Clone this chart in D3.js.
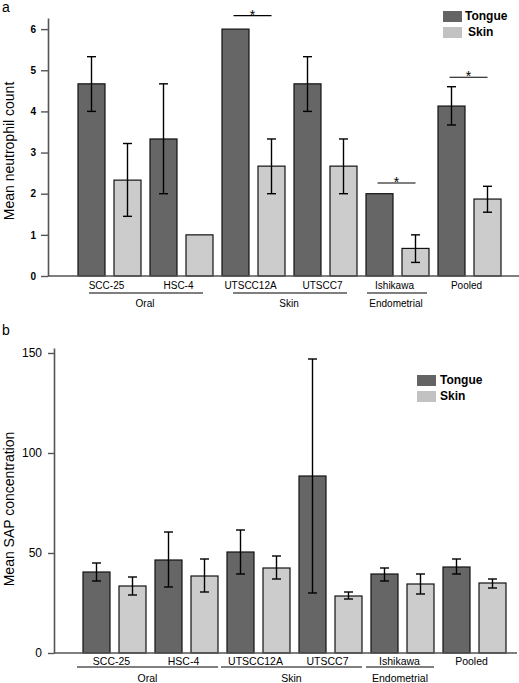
<!DOCTYPE html>
<html>
<head>
<meta charset="utf-8">
<script src="https://cdn.jsdelivr.net/npm/d3@7"></script>
<style>
  body { margin: 0; background: #fff; }
  svg text { font-family: "Liberation Sans", Arial, sans-serif; fill: #000; }
</style>
</head>
<body>
<svg id="chart" width="519" height="683"></svg>
<script>
// ---------- DATA ----------
const cellLines = ["SCC-25", "HSC-4", "UTSCC12A", "UTSCC7", "Ishikawa", "Pooled"];
const seriesNames = ["Tongue", "Skin"];
const groups = [
  { name: "Oral", members: ["SCC-25", "HSC-4"] },
  { name: "Skin", members: ["UTSCC12A", "UTSCC7"] },
  { name: "Endometrial", members: ["Ishikawa"] }
];

// Panel a: Mean neutrophil count
const neutroTicks = [0, 1, 2, 3, 4, 5, 6];
const neutroTongue     = [4.67, 3.33, 6.0, 4.67, 2.0, 4.13];
const neutroTongueLow  = [4.0, 2.0, 6.0, 4.0, 2.0, 3.67];
const neutroTongueHigh = [5.33, 4.67, 6.0, 5.33, 2.0, 4.6];
const neutroSkin       = [2.33, 1.0, 2.67, 2.67, 0.67, 1.87];
const neutroSkinLow    = [1.45, 1.0, 2.0, 2.0, 0.33, 1.55];
const neutroSkinHigh   = [3.22, 1.0, 3.33, 3.33, 1.0, 2.18];
const neutroSig = [
  { line: "UTSCC12A", value: 6.33 },
  { line: "Ishikawa", value: 2.26 },
  { line: "Pooled", value: 4.83 }
];

// Panel b: Mean SAP concentration
const sapTicks = [0, 50, 100, 150];
const sapTongue     = [40.5, 46.5, 50.5, 88.5, 39.5, 43];
const sapTongueLow  = [36, 33, 39.5, 30, 36, 39.5];
const sapTongueHigh = [45, 60.5, 61.5, 147, 42.5, 47];
const sapSkin       = [33.5, 38.5, 42.5, 28.5, 34.5, 35];
const sapSkinLow    = [29, 30.5, 37, 27, 29.5, 32.5];
const sapSkinHigh   = [38, 47, 48.5, 30.5, 39.5, 37];

// ---------- DRAWING ----------
const svg = d3.select("#chart");
const colors = { Tongue: "#666666", Skin: "#cccccc" };
const legendColors = { Tongue: "#646464", Skin: "#c2c2c2" };

function buildRows(vals) {
  return cellLines.map((c, i) => ({
    line: c,
    values: [
      { s: "Tongue", v: vals[0][i], lo: vals[1][i], hi: vals[2][i] },
      { s: "Skin",   v: vals[3][i], lo: vals[4][i], hi: vals[5][i] }
    ]
  }));
}

function panel(cfg) {
  const g = svg.append("g");
  const y = d3.scaleLinear().domain([0, cfg.yMax]).range([cfg.y0, cfg.yTop]);
  const x0 = d3.scaleBand().domain(cellLines).range([cfg.xStart, cfg.xStart + 432]).paddingInner(0).paddingOuter(0);
  const x1 = d3.scaleBand().domain(seriesNames).range([0, x0.bandwidth()]).paddingInner(0.25).paddingOuter(0.125);

  // panel letter
  g.append("text").attr("x", 2).attr("y", cfg.letterY).attr("font-size", 14).text(cfg.letter);

  // y axis label
  g.append("text")
    .attr("transform", `translate(${cfg.yLabelX},${cfg.yLabelY}) rotate(-90)`)
    .attr("text-anchor", "middle").attr("font-size", 14).text(cfg.yLabel);

  // bars
  const rows = buildRows(cfg.data);
  const rowG = g.selectAll("g.row").data(rows).join("g")
    .attr("transform", d => `translate(${x0(d.line)},0)`);
  rowG.selectAll("rect").data(d => d.values).join("rect")
    .attr("x", d => x1(d.s)).attr("width", x1.bandwidth())
    .attr("y", d => y(d.v)).attr("height", d => y(0) - y(d.v))
    .attr("fill", d => colors[d.s]).attr("stroke", "#111").attr("stroke-width", 1.2);

  // error bars
  const eb = rowG.selectAll("g.err").data(d => d.values.filter(v => v.hi > v.lo)).join("g")
    .attr("stroke", "#000").attr("stroke-width", 1.4);
  eb.append("line")
    .attr("x1", d => x1(d.s) + x1.bandwidth() / 2).attr("x2", d => x1(d.s) + x1.bandwidth() / 2)
    .attr("y1", d => y(d.lo)).attr("y2", d => y(d.hi));
  eb.append("line")
    .attr("x1", d => x1(d.s) + x1.bandwidth() / 2 - 4.5).attr("x2", d => x1(d.s) + x1.bandwidth() / 2 + 4.5)
    .attr("y1", d => y(d.hi)).attr("y2", d => y(d.hi));
  eb.append("line")
    .attr("x1", d => x1(d.s) + x1.bandwidth() / 2 - 4.5).attr("x2", d => x1(d.s) + x1.bandwidth() / 2 + 4.5)
    .attr("y1", d => y(d.lo)).attr("y2", d => y(d.lo));

  // y axis
  const yAxis = d3.axisLeft(y).tickValues(cfg.ticks).tickFormat(d3.format("d"))
    .tickSize(cfg.tickLen).tickPadding(cfg.tickPad).tickSizeOuter(0);
  const ya = g.append("g").attr("transform", `translate(${cfg.axisX},0)`).call(yAxis);
  ya.select(".domain").attr("stroke", "#555").attr("stroke-width", 1.6);
  ya.selectAll(".tick line").attr("stroke", "#555").attr("stroke-width", 1.4);
  ya.selectAll(".tick text").attr("font-size", cfg.tickFont).attr("font-weight", cfg.tickWeight)
    .attr("font-family", "'Liberation Sans', Arial, sans-serif").attr("fill", "#000");

  // x axis baseline
  g.append("line").attr("x1", cfg.axisX).attr("x2", cfg.xAxisEnd)
    .attr("y1", y(0)).attr("y2", y(0)).attr("stroke", "#555").attr("stroke-width", 1.6);

  // category labels
  g.selectAll("text.cat").data(cellLines).join("text")
    .attr("x", d => x0(d) + x0.bandwidth() / 2 + cfg.catShift)
    .attr("y", cfg.catY).attr("text-anchor", "middle").attr("font-size", cfg.catFont).text(d => d);

  // group underlines and labels
  groups.forEach(gr => {
    const first = gr.members[0], last = gr.members[gr.members.length - 1];
    const inset = gr.members.length > 1 ? cfg.ulInset : cfg.ulInsetSingle;
    const xa = x0(first) + x1("Tongue") + inset[0];
    const xb = x0(last) + x1("Skin") + x1.bandwidth() - inset[1];
    g.append("line").attr("x1", xa).attr("x2", xb).attr("y1", cfg.ulY).attr("y2", cfg.ulY)
      .attr("stroke", "#000").attr("stroke-width", 1.2);
    g.append("text").attr("x", (xa + xb) / 2 + cfg.grpShift).attr("y", cfg.grpY)
      .attr("text-anchor", "middle").attr("font-size", cfg.catFont).text(gr.name);
  });

  // significance markers
  (cfg.sig || []).forEach(s => {
    const cx = x0(s.line) + x0.bandwidth() / 2 - 1;
    g.append("line").attr("x1", cx - 19).attr("x2", cx + 19)
      .attr("y1", y(s.value)).attr("y2", y(s.value)).attr("stroke", "#000").attr("stroke-width", 1.2);
    g.append("text").attr("x", cx).attr("y", y(s.value) + 4).attr("text-anchor", "middle")
      .attr("font-size", 14).text("*");
  });

  // legend
  const lg = g.append("g").attr("transform", `translate(${cfg.legX},${cfg.legY})`);
  seriesNames.forEach((s, i) => {
    lg.append("rect").attr("x", 0).attr("y", i * 16).attr("width", 19).attr("height", 11).attr("fill", legendColors[s]);
    lg.append("text").attr("x", cfg.legTextX[i]).attr("y", i * 16 + 9).attr("font-size", 12)
      .attr("font-weight", "bold").text(s);
  });
}

panel({
  letter: "a", letterY: 12,
  yLabel: "Mean neutrophil count", yLabelX: 14, yLabelY: 151,
  data: [neutroTongue, neutroTongueLow, neutroTongueHigh, neutroSkin, neutroSkinLow, neutroSkinHigh],
  yMax: 6.27, y0: 276, yTop: 18, ticks: neutroTicks,
  axisX: 48, xAxisEnd: 519, xStart: 73.5,
  tickLen: 7, tickPad: 5, tickFont: 10, tickWeight: "bold",
  catY: 289, catFont: 10, catShift: -3,
  ulY: 293, ulInset: [11, 10], ulInsetSingle: [1, 2], grpY: 307, grpShift: -1,
  sig: neutroSig,
  legX: 443, legY: 11, legTextX: [22, 25]
});

panel({
  letter: "b", letterY: 335,
  yLabel: "Mean SAP concentration", yLabelX: 14, yLabelY: 509,
  data: [sapTongue, sapTongueLow, sapTongueHigh, sapSkin, sapSkinLow, sapSkinHigh],
  yMax: 152.5, y0: 653, yTop: 348, ticks: sapTicks,
  axisX: 54, xAxisEnd: 517, xStart: 78.5,
  tickLen: 6, tickPad: 6, tickFont: 12, tickWeight: "normal",
  catY: 665, catFont: 10.5, catShift: -3,
  ulY: 667, ulInset: [-6, 0], ulInsetSingle: [-5, 0], grpY: 682, grpShift: 0,
  sig: [],
  legX: 417, legY: 375, legTextX: [23, 23]
});
</script>
</body>
</html>
